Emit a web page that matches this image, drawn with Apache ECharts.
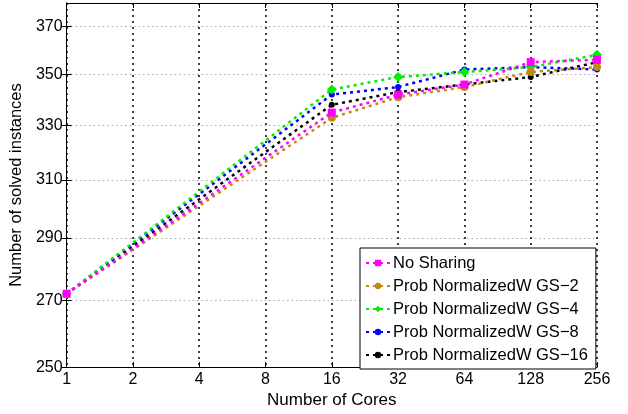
<!DOCTYPE html>
<html><head><meta charset="utf-8">
<script src="https://cdn.jsdelivr.net/npm/echarts@6/dist/echarts.min.js"></script>
<style>html,body{margin:0;padding:0;background:#fff}#c{width:628px;height:414px}</style>
</head><body><div id="c"></div>
<script>
const cores = [1, 16, 32, 64, 128, 256];
const xTicks = [1, 2, 4, 8, 16, 32, 64, 128, 256];
const yTicks = [250, 270, 290, 310, 330, 350, 370];
const noSharing = [272, 335, 342, 346, 355, 356];
const gs2 = [272, 333, 341, 345, 351, 353];
const gs4 = [272, 344, 349, 351, 353, 358];
const gs8 = [272, 342, 345, 352, 353, 352];
const gs16 = [272, 338, 343, 346, 349, 355];
const names = ['No Sharing', 'Prob NormalizedW GS\u22122', 'Prob NormalizedW GS\u22124', 'Prob NormalizedW GS\u22128', 'Prob NormalizedW GS\u221216'];
const yMin = 250, yMax = 380;

const L2 = v => Math.log2(v);
const LN = v => Math.log(v);
const pts = arr => arr.map((v, i) => [L2(cores[i]), LN(v)]);

const styles = [
  {color: '#ff00ff', symbol: 'rect', size: 8},
  {color: '#c08a12', symbol: 'circle', size: 8},
  {color: '#00ee00', symbol: 'diamond', size: 10},
  {color: '#0000ff', symbol: 'circle', size: 6},
  {color: '#000000', symbol: 'circle', size: 6}
];
const datas = [noSharing, gs2, gs4, gs8, gs16];

const font = 'Liberation Sans, Arial, sans-serif';
const chart = echarts.init(document.getElementById('c'), null, {renderer: 'canvas'});
const yTickVals = yTicks.map(LN);

const series = datas.map((d, i) => ({
  name: names[i], type: 'line', data: pts(d),
  symbol: styles[i].symbol, symbolSize: styles[i].size,
  itemStyle: {color: styles[i].color},
  lineStyle: {color: styles[i].color, width: 2.5, type: [3, 4]},
  z: 10 - i, animation: false
}));

chart.setOption({
  animation: false,
  grid: {left: 66, right: 31, top: 3, bottom: 42, containLabel: false},
  legend: {
    orient: 'vertical', left: 360, top: 248,
    backgroundColor: '#fff', borderColor: '#000', borderWidth: 1,
    padding: [6, 8, 5, 5], itemGap: 5, itemWidth: 24, itemHeight: 8,
    textStyle: {fontFamily: font, fontSize: 16.5, color: '#000', padding: [0, 0, 0, -2], lineHeight: 18},
    data: names
  },
  xAxis: [{
    type: 'value', min: 0, max: 8, interval: 1,
    name: 'Number of Cores', nameLocation: 'middle', nameGap: 20,
    nameTextStyle: {fontFamily: font, fontSize: 17, color: '#000'},
    axisLine: {lineStyle: {color: '#000', width: 1}},
    axisTick: {inside: true, length: 5, lineStyle: {color: '#000'}},
    axisLabel: {fontFamily: font, fontSize: 16, color: '#000', margin: 4,
      formatter: v => String(Math.round(Math.pow(2, v)))},
    splitLine: {show: true, lineStyle: {color: '#000', type: [2, 4], width: 1.5}}
  }, {
    type: 'value', min: 0, max: 8, interval: 1, position: 'top',
    axisLine: {lineStyle: {color: '#000'}},
    axisTick: {inside: true, length: 5, lineStyle: {color: '#000'}},
    axisLabel: {show: false}, splitLine: {show: false}
  }],
  yAxis: [{
    type: 'value', min: LN(yMin), max: LN(yMax),
    name: 'Number of solved instances', nameLocation: 'middle', nameGap: 32,
    nameTextStyle: {fontFamily: font, fontSize: 16.5, color: '#000'},
    axisLine: {show: true, lineStyle: {color: '#000', width: 1}},
    axisTick: {show: true, inside: true, length: 5, lineStyle: {color: '#000'}, customValues: yTickVals},
    axisLabel: {fontFamily: font, fontSize: 16, color: '#000', margin: 4, customValues: yTickVals,
      formatter: v => String(Math.round(Math.exp(v)))},
    splitLine: {show: true, lineStyle: {color: '#aaa', type: [1.5, 3], width: 1}}
  }, {
    type: 'value', min: LN(yMin), max: LN(yMax), position: 'right',
    axisLine: {show: true, lineStyle: {color: '#000'}},
    axisTick: {show: true, inside: true, length: 5, lineStyle: {color: '#000'}, customValues: yTickVals},
    axisLabel: {show: false}, splitLine: {show: false}
  }],
  series: series
});
</script></body></html>
